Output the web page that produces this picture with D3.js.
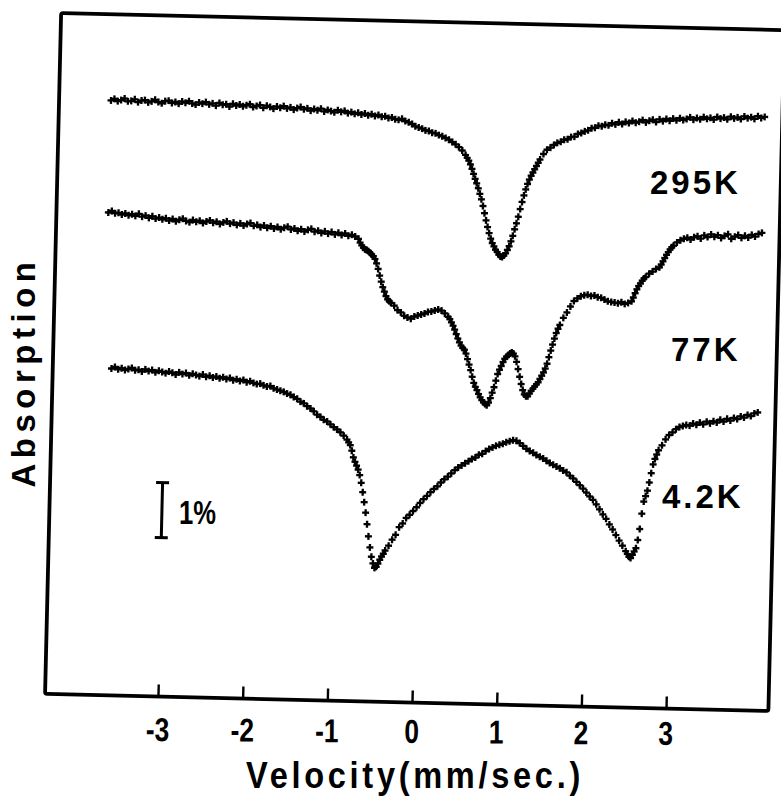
<!DOCTYPE html>
<html><head><meta charset="utf-8">
<script src="https://cdn.jsdelivr.net/npm/d3@7"></script>
<style>html,body{margin:0;padding:0;background:#fff;}svg{display:block;}</style>
</head><body>
<svg id="chart" width="781" height="797"></svg>
<script>
// ---------- data (velocity mm/s, absorption % below each spectrum's own baseline) ----------
const xTicks = [-3, -2, -1, 0, 1, 2, 3];
const seriesLabels = ["295K", "77K", "4.2K"];
const seriesOffsets = [1.556, 3.595, 6.43];   // stacking offset of each spectrum (%)
const scaleBarValue = 1;                        // the "1%" bar
const scaleBarAt = 8.49;

const spectrum295K = [[-3.72,0.01],[-3.68,-0.02],[-3.64,0.02],[-3.60,0.00],[-3.56,-0.03],[-3.52,0.02],[-3.48,0.01],[-3.44,-0.02],[-3.40,0.03],[-3.36,0.00],
[-3.32,-0.01],[-3.28,0.03],[-3.24,0.01],[-3.20,-0.02],[-3.16,0.02],[-3.12,0.04],[-3.08,0.00],[-3.04,-0.01],[-3.00,0.03],[-2.96,0.01],
[-2.92,0.04],[-2.88,0.00],[-2.84,0.02],[-2.80,-0.01],[-2.76,0.03],[-2.72,0.05],[-2.68,0.01],[-2.64,0.03],[-2.60,0.00],[-2.56,0.04],
[-2.52,0.02],[-2.48,0.06],[-2.44,0.01],[-2.40,0.04],[-2.36,0.03],[-2.32,0.07],[-2.28,0.02],[-2.24,0.05],[-2.20,0.03],[-2.16,0.06],
[-2.12,0.04],[-2.08,0.02],[-2.04,0.07],[-2.00,0.05],[-1.96,0.03],[-1.92,0.08],[-1.88,0.04],[-1.84,0.06],[-1.80,0.09],[-1.76,0.05],
[-1.72,0.07],[-1.68,0.04],[-1.64,0.08],[-1.60,0.06],[-1.56,0.10],[-1.52,0.07],[-1.48,0.05],[-1.44,0.09],[-1.40,0.07],[-1.36,0.11],
[-1.32,0.08],[-1.28,0.10],[-1.24,0.07],[-1.20,0.12],[-1.16,0.09],[-1.12,0.11],[-1.08,0.13],[-1.04,0.09],[-1.00,0.12],[-0.96,0.10],
[-0.92,0.14],[-0.88,0.12],[-0.84,0.15],[-0.80,0.13],[-0.76,0.16],[-0.72,0.14],[-0.68,0.17],[-0.64,0.15],[-0.60,0.18],[-0.56,0.16],
[-0.52,0.19],[-0.48,0.18],[-0.44,0.21],[-0.40,0.20],[-0.36,0.23],[-0.32,0.24],[-0.28,0.22],[-0.24,0.26],[-0.20,0.28],[-0.16,0.31],
[-0.12,0.35],[-0.08,0.37],[-0.04,0.39],[0.00,0.42],[0.04,0.43],[0.08,0.46],[0.12,0.47],[0.16,0.50],[0.20,0.52],[0.24,0.55],
[0.28,0.58],[0.32,0.62],[0.36,0.66],[0.40,0.71],[0.44,0.77],[0.48,0.85],[0.50,0.90],[0.52,0.95],[0.54,1.02],[0.56,1.10],
[0.58,1.19],[0.60,1.28],[0.62,1.36],[0.64,1.45],[0.66,1.55],[0.68,1.65],[0.70,1.77],[0.72,1.90],[0.74,2.03],[0.76,2.15],
[0.78,2.26],[0.80,2.36],[0.82,2.44],[0.84,2.50],[0.86,2.56],[0.88,2.60],[0.90,2.65],[0.92,2.68],[0.94,2.69],[0.96,2.66],
[0.98,2.62],[1.00,2.56],[1.02,2.49],[1.04,2.40],[1.06,2.30],[1.08,2.18],[1.10,2.07],[1.12,1.95],[1.14,1.81],[1.16,1.68],
[1.18,1.56],[1.20,1.45],[1.22,1.35],[1.24,1.27],[1.26,1.20],[1.28,1.14],[1.30,1.08],[1.32,1.02],[1.34,0.96],[1.36,0.90],
[1.40,0.80],[1.44,0.72],[1.48,0.68],[1.52,0.63],[1.56,0.59],[1.60,0.57],[1.64,0.53],[1.68,0.52],[1.72,0.48],[1.76,0.47],
[1.80,0.42],[1.84,0.40],[1.88,0.37],[1.92,0.35],[1.96,0.31],[2.00,0.30],[2.04,0.26],[2.08,0.27],[2.12,0.24],[2.16,0.25],
[2.20,0.21],[2.24,0.23],[2.28,0.19],[2.32,0.22],[2.36,0.18],[2.40,0.20],[2.44,0.16],[2.48,0.19],[2.52,0.17],[2.56,0.14],
[2.60,0.18],[2.64,0.15],[2.68,0.13],[2.72,0.17],[2.76,0.12],[2.80,0.15],[2.84,0.11],[2.88,0.14],[2.92,0.10],[2.96,0.13],
[3.00,0.09],[3.04,0.12],[3.08,0.10],[3.12,0.07],[3.16,0.11],[3.20,0.08],[3.24,0.10],[3.28,0.06],[3.32,0.09],[3.36,0.07],
[3.40,0.10],[3.44,0.05],[3.48,0.08],[3.52,0.06],[3.56,0.09],[3.60,0.04],[3.64,0.07],[3.68,0.05],[3.72,0.08],[3.76,0.03],
[3.80,0.06],[3.84,0.04],[3.88,0.07],[3.92,0.02],[3.96,0.05],[4.00,0.03]];

const spectrum77K = [[-3.72,0.01],[-3.68,-0.02],[-3.64,0.02],[-3.60,0.01],[-3.56,0.04],[-3.52,0.02],[-3.48,0.05],[-3.44,0.03],[-3.40,0.06],[-3.36,0.02],
[-3.32,0.07],[-3.28,0.05],[-3.24,0.09],[-3.20,0.06],[-3.16,0.10],[-3.12,0.08],[-3.08,0.11],[-3.04,0.09],[-3.00,0.13],[-2.96,0.10],
[-2.92,0.14],[-2.88,0.11],[-2.84,0.09],[-2.80,0.13],[-2.76,0.15],[-2.72,0.11],[-2.68,0.14],[-2.64,0.12],[-2.60,0.16],[-2.56,0.13],
[-2.52,0.11],[-2.48,0.15],[-2.44,0.13],[-2.40,0.17],[-2.36,0.14],[-2.32,0.12],[-2.28,0.16],[-2.24,0.14],[-2.20,0.18],[-2.16,0.15],
[-2.12,0.19],[-2.08,0.16],[-2.04,0.14],[-2.00,0.19],[-1.96,0.17],[-1.92,0.21],[-1.88,0.18],[-1.84,0.22],[-1.80,0.19],[-1.76,0.23],
[-1.72,0.20],[-1.68,0.24],[-1.64,0.21],[-1.60,0.19],[-1.56,0.24],[-1.52,0.22],[-1.48,0.26],[-1.44,0.23],[-1.40,0.27],[-1.36,0.24],
[-1.32,0.22],[-1.28,0.27],[-1.24,0.25],[-1.20,0.29],[-1.16,0.26],[-1.12,0.30],[-1.08,0.27],[-1.04,0.31],[-1.00,0.28],[-0.96,0.32],
[-0.92,0.29],[-0.88,0.33],[-0.84,0.31],[-0.80,0.34],[-0.76,0.38],[-0.74,0.45],[-0.72,0.50],[-0.70,0.54],[-0.68,0.57],[-0.66,0.58],
[-0.64,0.60],[-0.62,0.63],[-0.60,0.66],[-0.58,0.69],[-0.56,0.74],[-0.54,0.82],[-0.52,0.92],[-0.50,1.04],[-0.48,1.15],[-0.46,1.25],
[-0.44,1.33],[-0.42,1.41],[-0.40,1.47],[-0.38,1.50],[-0.36,1.53],[-0.32,1.58],[-0.28,1.66],[-0.24,1.70],[-0.20,1.76],[-0.16,1.79],
[-0.12,1.81],[-0.08,1.77],[-0.04,1.75],[0.00,1.73],[0.04,1.71],[0.08,1.68],[0.12,1.67],[0.16,1.65],[0.20,1.63],[0.24,1.65],
[0.28,1.70],[0.32,1.76],[0.34,1.80],[0.36,1.86],[0.38,1.92],[0.40,1.99],[0.42,2.07],[0.44,2.15],[0.46,2.22],[0.48,2.28],
[0.50,2.32],[0.52,2.35],[0.54,2.42],[0.56,2.52],[0.58,2.62],[0.60,2.72],[0.62,2.84],[0.64,2.95],[0.66,3.02],[0.68,3.08],
[0.70,3.15],[0.72,3.21],[0.74,3.26],[0.76,3.30],[0.78,3.33],[0.80,3.35],[0.82,3.30],[0.84,3.22],[0.86,3.12],[0.88,3.02],
[0.90,2.90],[0.92,2.78],[0.94,2.70],[0.96,2.63],[0.98,2.56],[1.00,2.50],[1.02,2.46],[1.04,2.43],[1.06,2.40],[1.08,2.38],
[1.10,2.40],[1.12,2.45],[1.14,2.55],[1.16,2.68],[1.18,2.82],[1.20,2.95],[1.22,3.06],[1.24,3.14],[1.26,3.17],[1.28,3.17],
[1.30,3.12],[1.32,3.07],[1.34,3.03],[1.36,2.99],[1.38,2.95],[1.40,2.91],[1.42,2.85],[1.44,2.79],[1.46,2.73],[1.48,2.66],
[1.50,2.57],[1.52,2.45],[1.54,2.33],[1.56,2.22],[1.58,2.11],[1.60,2.01],[1.62,1.93],[1.64,1.86],[1.68,1.73],[1.72,1.63],
[1.76,1.52],[1.80,1.42],[1.84,1.37],[1.88,1.33],[1.92,1.31],[1.96,1.30],[2.00,1.32],[2.04,1.31],[2.08,1.34],[2.12,1.35],
[2.16,1.38],[2.20,1.41],[2.24,1.42],[2.28,1.43],[2.32,1.44],[2.36,1.42],[2.40,1.45],[2.44,1.43],[2.48,1.40],[2.50,1.33],
[2.52,1.25],[2.54,1.18],[2.56,1.12],[2.58,1.07],[2.60,1.02],[2.62,0.98],[2.64,0.95],[2.68,0.89],[2.72,0.85],[2.76,0.80],
[2.80,0.77],[2.82,0.72],[2.84,0.66],[2.86,0.60],[2.88,0.54],[2.90,0.49],[2.92,0.44],[2.94,0.40],[2.96,0.37],[3.00,0.31],
[3.04,0.27],[3.08,0.24],[3.12,0.22],[3.16,0.25],[3.20,0.21],[3.24,0.19],[3.28,0.23],[3.32,0.17],[3.36,0.20],[3.40,0.15],
[3.44,0.19],[3.48,0.16],[3.52,0.21],[3.56,0.17],[3.60,0.14],[3.64,0.22],[3.68,0.18],[3.72,0.15],[3.76,0.20],[3.80,0.16],
[3.84,0.19],[3.88,0.14],[3.92,0.17],[3.96,0.12],[4.00,0.10]];

const spectrum4K = [[-3.64,0.01],[-3.60,-0.02],[-3.56,0.02],[-3.52,0.00],[-3.48,0.03],[-3.44,0.01],[-3.40,-0.01],[-3.36,0.03],[-3.32,0.02],[-3.28,0.05],
[-3.24,0.01],[-3.20,0.04],[-3.16,0.02],[-3.12,0.06],[-3.08,0.03],[-3.04,0.05],[-3.00,0.07],[-2.96,0.04],[-2.92,0.06],[-2.88,0.09],
[-2.84,0.05],[-2.80,0.08],[-2.76,0.06],[-2.72,0.10],[-2.68,0.07],[-2.64,0.09],[-2.60,0.11],[-2.56,0.08],[-2.52,0.12],[-2.48,0.10],
[-2.44,0.13],[-2.40,0.11],[-2.36,0.14],[-2.32,0.12],[-2.28,0.15],[-2.24,0.13],[-2.20,0.17],[-2.16,0.15],[-2.12,0.18],[-2.08,0.16],
[-2.04,0.20],[-2.00,0.18],[-1.96,0.21],[-1.92,0.23],[-1.88,0.22],[-1.84,0.25],[-1.80,0.27],[-1.76,0.26],[-1.72,0.30],[-1.68,0.32],
[-1.64,0.34],[-1.60,0.36],[-1.56,0.39],[-1.52,0.41],[-1.48,0.45],[-1.44,0.48],[-1.40,0.53],[-1.36,0.56],[-1.32,0.61],[-1.28,0.65],
[-1.24,0.70],[-1.20,0.76],[-1.16,0.80],[-1.12,0.85],[-1.08,0.88],[-1.04,0.93],[-1.00,0.98],[-0.96,1.02],[-0.92,1.07],[-0.88,1.13],
[-0.84,1.20],[-0.82,1.25],[-0.80,1.30],[-0.78,1.40],[-0.76,1.52],[-0.74,1.60],[-0.72,1.67],[-0.70,1.74],[-0.68,1.84],[-0.66,1.98],
[-0.64,2.15],[-0.62,2.33],[-0.60,2.52],[-0.58,2.73],[-0.56,2.95],[-0.54,3.15],[-0.52,3.32],[-0.50,3.44],[-0.48,3.52],[-0.46,3.50],
[-0.44,3.44],[-0.42,3.37],[-0.40,3.31],[-0.38,3.26],[-0.36,3.20],[-0.32,3.11],[-0.28,3.00],[-0.24,2.91],[-0.20,2.77],[-0.16,2.70],
[-0.12,2.60],[-0.08,2.54],[-0.04,2.47],[0.00,2.40],[0.04,2.32],[0.08,2.25],[0.12,2.19],[0.16,2.12],[0.20,2.06],[0.24,2.01],
[0.28,1.94],[0.32,1.88],[0.36,1.83],[0.40,1.77],[0.44,1.71],[0.48,1.66],[0.52,1.62],[0.56,1.58],[0.60,1.54],[0.64,1.50],
[0.68,1.47],[0.72,1.42],[0.76,1.40],[0.80,1.35],[0.84,1.31],[0.88,1.28],[0.92,1.25],[0.96,1.23],[1.00,1.21],[1.04,1.18],
[1.08,1.16],[1.12,1.14],[1.16,1.15],[1.20,1.19],[1.24,1.24],[1.28,1.29],[1.32,1.33],[1.36,1.36],[1.40,1.40],[1.44,1.43],
[1.48,1.46],[1.52,1.50],[1.56,1.54],[1.60,1.57],[1.64,1.60],[1.68,1.63],[1.72,1.67],[1.76,1.70],[1.80,1.76],[1.84,1.81],
[1.88,1.87],[1.92,1.93],[1.96,1.99],[2.00,2.06],[2.04,2.13],[2.08,2.19],[2.12,2.27],[2.16,2.36],[2.20,2.45],[2.24,2.53],
[2.28,2.63],[2.32,2.72],[2.36,2.82],[2.40,2.92],[2.44,3.01],[2.48,3.11],[2.50,3.16],[2.52,3.21],[2.54,3.23],[2.56,3.17],
[2.58,3.11],[2.60,3.05],[2.62,2.90],[2.64,2.70],[2.66,2.42],[2.68,2.20],[2.70,2.10],[2.72,2.00],[2.74,1.85],[2.76,1.68],
[2.78,1.52],[2.80,1.42],[2.82,1.34],[2.84,1.26],[2.88,1.17],[2.92,1.06],[2.96,0.98],[3.00,0.93],[3.04,0.87],[3.08,0.83],
[3.12,0.81],[3.16,0.79],[3.20,0.80],[3.24,0.76],[3.28,0.78],[3.32,0.74],[3.36,0.77],[3.40,0.72],[3.44,0.75],[3.48,0.71],
[3.52,0.73],[3.56,0.68],[3.60,0.71],[3.64,0.66],[3.68,0.69],[3.72,0.64],[3.76,0.66],[3.80,0.61],[3.84,0.63],[3.88,0.58],
[3.92,0.60],[3.96,0.55],[4.00,0.53]];

const spectra = [spectrum295K, spectrum77K, spectrum4K];

// ---------- layout ----------
const frame = {left: 53, right: 776.5, top: 21.5, bottom: 702.5};
const tilt = 1.35, cx = 414.5, cy = 362;      // the scanned figure is slightly rotated
const font = "'Liberation Sans', Arial, Helvetica, sans-serif";

const x = d3.scaleLinear().domain([(frame.left - 420) / 84.7, (frame.right - 420) / 84.7]).range([frame.left, frame.right]);
const y = d3.scaleLinear().domain([0, (frame.bottom - frame.top) / 55]).range([frame.top, frame.bottom]);

const svg = d3.select("#chart");
svg.append("rect").attr("width", 781).attr("height", 797).attr("fill", "#fff");

const g = svg.append("g").attr("transform", `rotate(${tilt},${cx},${cy})`);

// data points (+ markers)
const cross = d3.symbol().type(d3.symbolCross).size(27)();
spectra.forEach((data, i) => {
  g.append("g").selectAll("path").data(data).join("path")
    .attr("d", cross)
    .attr("fill", "#000")
    .attr("transform", d => `translate(${x(d[0]).toFixed(2)},${y(seriesOffsets[i] + d[1]).toFixed(2)})`);
});

// frame
g.append("rect")
  .attr("x", frame.left).attr("y", frame.top)
  .attr("width", frame.right - frame.left).attr("height", frame.bottom - frame.top)
  .attr("fill", "none").attr("stroke", "#000").attr("stroke-width", 3.8)
  .attr("stroke-linejoin", "round").attr("rx", 2);

// inward ticks
const tickAxis = g.append("g").attr("transform", `translate(0,${frame.bottom})`)
  .call(d3.axisBottom(x).tickValues(xTicks).tickSize(-12).tickSizeOuter(0).tickFormat(""));
tickAxis.select(".domain").remove();
tickAxis.selectAll(".tick line").attr("stroke", "#000").attr("stroke-width", 2.4);

// scale bar 1%
const bx = 165.5;
g.append("line").attr("x1", bx).attr("x2", bx).attr("y1", y(scaleBarAt)).attr("y2", y(scaleBarAt + scaleBarValue))
  .attr("stroke", "#000").attr("stroke-width", 3);
[scaleBarAt, scaleBarAt + scaleBarValue].forEach(v => {
  g.append("line").attr("x1", bx - 6.5).attr("x2", bx + 6.5).attr("y1", y(v)).attr("y2", y(v))
    .attr("stroke", "#000").attr("stroke-width", 3);
});

// tick labels (slightly less tilted in the scan)
const lab = svg.append("g").attr("transform", `rotate(0.45,${cx},${cy}) translate(-6,${frame.bottom})`);
lab.call(d3.axisBottom(x).tickValues(xTicks).tickSize(0).tickPadding(17)
  .tickFormat(d => d < 0 ? "-" + Math.abs(d) : String(d)));
lab.select(".domain").remove();
lab.selectAll(".tick text").attr("font-family", font).attr("font-weight", "bold")
  .attr("font-size", 33).attr("fill", "#000").attr("transform", "scale(0.8,1)");

// axis title
svg.append("text").attr("transform", "translate(415,788) scale(0.88,1)").attr("text-anchor", "middle")
  .attr("font-family", font).attr("font-weight", "bold").attr("font-size", 37)
  .attr("letter-spacing", 4.2).text("Velocity(mm/sec.)");

svg.append("text").attr("transform", "translate(35,372) rotate(-90)").attr("text-anchor", "middle")
  .attr("font-family", font).attr("font-weight", "bold").attr("font-size", 33)
  .attr("letter-spacing", 5.5).text("Absorption");

// temperature labels
const labelPos = [[650, 194], [671, 361], [662, 508]];
seriesLabels.forEach((t, i) => {
  svg.append("text").attr("x", labelPos[i][0]).attr("y", labelPos[i][1])
    .attr("font-family", font).attr("font-weight", "bold").attr("font-size", 33)
    .attr("letter-spacing", 3).text(t);
});

svg.append("text").attr("x", 179).attr("y", 524)
  .attr("font-family", font).attr("font-weight", "bold").attr("font-size", 33)
  .attr("textLength", 37).attr("lengthAdjust", "spacingAndGlyphs").text("1%");
</script>
</body></html>
